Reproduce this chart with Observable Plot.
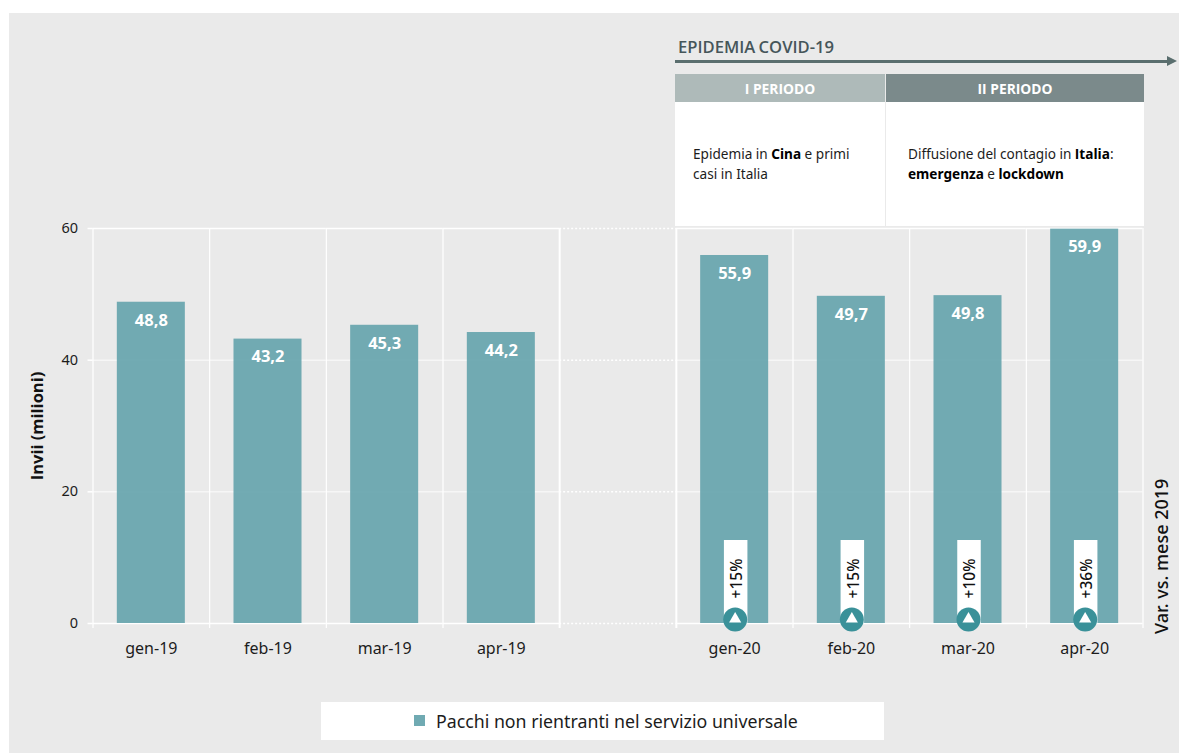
<!DOCTYPE html>
<html lang="it">
<head>
<meta charset="utf-8">
<title>Invii di pacchi non rientranti nel servizio universale</title>
<script src="https://cdn.jsdelivr.net/npm/d3@7"></script>
<script src="https://cdn.jsdelivr.net/npm/@observablehq/plot@0.6"></script>
<style>
  html, body { margin: 0; padding: 0; background: #fff; }
  body { width: 1179px; height: 753px; overflow: hidden; font-family: "Noto Sans", sans-serif; color: #1a1a1a; }
  #panel { position: absolute; left: 9px; top: 13px; width: 1170px; height: 740px; background: #eaeaea; }
  .abs { position: absolute; box-sizing: border-box; }
  #epidemia { left: 678px; top: 37px; font-family: "Open Sans", sans-serif; font-size: 16.6px; font-weight: 600; line-height: 20px; color: #46565a; word-spacing: -1px; white-space: nowrap; }
  #arrowLine { left: 675px; top: 60px; width: 494px; height: 3px; background: #5a6e6e; }
  #arrowHead { left: 1167px; top: 56px; width: 0; height: 0; border-left: 10px solid #5a6e6e; border-top: 5.5px solid transparent; border-bottom: 5.5px solid transparent; }
  .periodHead { top: 74px; height: 28px; line-height: 29px; text-align: center; color: #fff; font-family: "Open Sans", sans-serif; font-size: 13.8px; font-weight: 700; }
  .periodBody { top: 102px; height: 124px; background: #fff; font-size: 13.6px; line-height: 20px; color: #1c1c1c; }
  .periodBody b { font-weight: 700; color: #000; }
  .periodBody b.plain { font-family: "Open Sans", sans-serif; }
  #legend { left: 321px; top: 702px; width: 563px; height: 38px; background: #fff; }
  #legendSwatch { left: 93px; top: 13px; width: 11px; height: 11px; background: #70aab2; }
  #legendText { left: 115px; top: 7px; font-size: 17.75px; line-height: 24px; white-space: nowrap; color: #1c1c1c; }
  #chart { position: absolute; left: 0; top: 214px; }
</style>
</head>
<body>
<div id="panel"></div>

<div class="abs" id="epidemia">EPIDEMIA COVID-19</div>
<div class="abs" id="arrowLine"></div>
<div class="abs" id="arrowHead"></div>

<div class="abs periodHead" style="left:675px;width:210px;background:#aebab9">I PERIODO</div>
<div class="abs periodHead" style="left:886px;width:258px;background:#7b8a8b">II PERIODO</div>
<div class="abs periodBody" style="left:675px;width:210px;padding:42px 10px 0 18px">Epidemia in <b>Cina</b> e primi<br>casi in Italia</div>
<div class="abs periodBody" style="left:886px;width:258px;padding:42px 0 0 22px">Diffusione del contagio in <b class="plain">Italia</b>:<br><b>emergenza</b> e <b>lockdown</b></div>

<div id="chart"></div>

<div class="abs" id="legend">
  <div class="abs" id="legendSwatch"></div>
  <div class="abs" id="legendText">Pacchi non rientranti nel servizio universale</div>
</div>

<script>
// Monthly parcels, 2019 and 2020, separated by an empty band.
const months2019 = ["gen-19", "feb-19", "mar-19", "apr-19"];
const months2020 = ["gen-20", "feb-20", "mar-20", "apr-20"];
const separator = "";
const values2019 = [48.8, 43.2, 45.3, 44.2];
const values2020 = [55.9, 49.7, 49.8, 59.9];
const changes2020 = ["+15%", "+15%", "+10%", "+36%"];
const yTicks = [0, 20, 40, 60];
const badgeTop = 12.6;

const domain = [...months2019, separator, ...months2020];
const bars = [...months2019, ...months2020].map((month, i) => ({
  month,
  value: [...values2019, ...values2020][i]
}));
const badges = months2020.map((month, i) => ({ month, change: changes2020[i] }));
const solidBands = domain.filter((m) => m !== separator);
const decimal = (v) => v.toFixed(1).replace(".", ",");

const width = 1179;
const marginLeft = 92.5;
const marginRight = 36.5;
const paddingInner = 0.417;
const step = (width - marginLeft - marginRight) / domain.length;
const overhang = (step * paddingInner) / 2;
const bandwidth = step - 2 * overhang;
const font = '"Noto Sans", sans-serif';

// Horizontal grid segments, one per band, so the empty band can be dotted.
const gridSegments = (bands, values, options) =>
  Plot.tickY(
    values.flatMap((y) => bands.map((x) => ({ x, y }))),
    { x: "x", y: "y", insetLeft: -overhang, insetRight: -overhang, stroke: "#fff", ...options }
  );

const chart = Plot.plot({
  width,
  height: 460,
  marginTop: 14,
  marginBottom: 51,
  marginLeft,
  marginRight,
  style: { background: "transparent", fontFamily: font, overflow: "visible" },
  x: { domain, paddingInner, paddingOuter: paddingInner / 2, round: false, axis: null },
  y: { domain: [0, 60], axis: null },
  marks: [
    gridSegments(solidBands, [20, 40], { strokeWidth: 1.5, strokeOpacity: 0.55 }),
    gridSegments(solidBands, [0, 60], { strokeWidth: 1.5 }),
    gridSegments([separator], yTicks, { strokeWidth: 1.5, strokeDasharray: "2 2" }),

    // Vertical separators with their small ticks below the baseline.
    Plot.ruleX(domain, { x: (d) => d, dx: -step / 2, stroke: "#fff", strokeWidth: (d) => (d === separator || d === months2020[0] ? 2 : 1.2), y1: 60, y2: 0, insetBottom: -5 }),
    Plot.ruleX([months2020[3]], { x: (d) => d, dx: step / 2, stroke: "#fff", strokeWidth: 1.2, y1: 60, y2: 0, insetBottom: -5 }),
    Plot.tickY(yTicks, { y: (d) => d, x: () => months2019[0], insetLeft: -overhang - 5, insetRight: bandwidth + overhang, stroke: "#fff", strokeWidth: 1.5 }),

    Plot.barY(bars, { x: "month", y: "value", fill: "#6aa7af", fillOpacity: 0.95 }),
    Plot.text(bars, { x: "month", y: "value", text: (d) => decimal(d.value), dy: 18, fill: "#fff", fontSize: 16.5, fontWeight: 700 }),

    // Year-on-year badges sitting on the baseline of the 2020 bars.
    Plot.ruleX(badges, { x: "month", y1: 0, y2: badgeTop, dx: 1, stroke: "#fff", strokeWidth: 23.5 }),
    Plot.text(badges, { x: "month", y: 0, text: "change", rotate: -90, dy: -45, dx: 2.5, fill: "#111", fontSize: 15.5, fontWeight: 500 }),
    Plot.dot(badges, { x: "month", y: 0, dx: 0.5, dy: -4, r: 12, fill: "#3a9199", stroke: null }),
    Plot.dot(badges, { x: "month", y: 0, dx: 0.5, dy: -4.5, r: 4.5, symbol: "triangle", fill: "#fff", stroke: null }),

    Plot.axisX({ tickSize: 0, tickPadding: 19, fontSize: 16, color: "#1c1c1c", label: null }),
    Plot.axisY({ ticks: yTicks, tickSize: 0, tickPadding: 15, fontSize: 14.5, color: "#1c1c1c", label: null }),
    Plot.text(["Invii (milioni)"], { frameAnchor: "left", textAnchor: "middle", rotate: -90, dx: -55, fill: "#111", fontFamily: '"Open Sans", sans-serif', fontSize: 16.5, fontWeight: 700 }),
    Plot.text(["Var. vs. mese 2019"], { frameAnchor: "right", textAnchor: "middle", y: () => 10.2, rotate: -90, dx: 19, fill: "#111", fontSize: 18, fontWeight: 500 })
  ]
});

document.getElementById("chart").append(chart);
</script>
</body>
</html>
